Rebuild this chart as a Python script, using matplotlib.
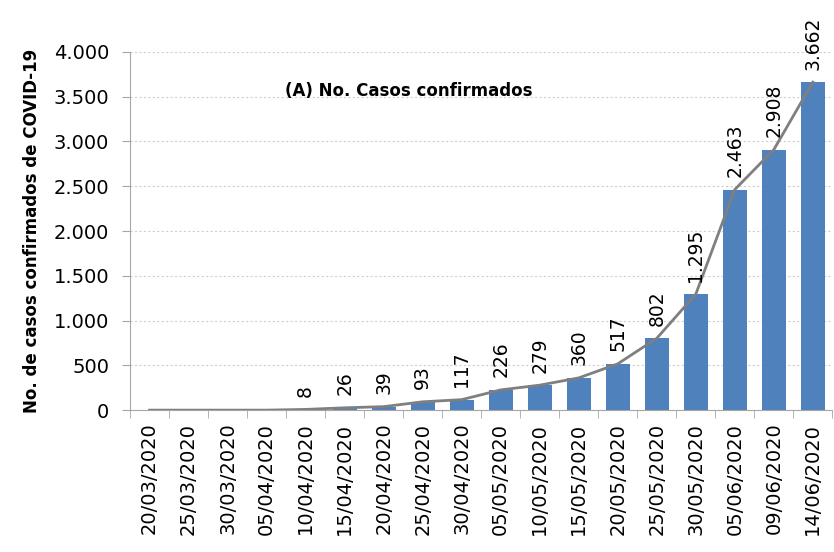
import numpy as np
import matplotlib
matplotlib.use("Agg")
import matplotlib.pyplot as plt
from matplotlib.ticker import FuncFormatter

fechas = ['20/03/2020', '25/03/2020', '30/03/2020', '05/04/2020', '10/04/2020',
          '15/04/2020', '20/04/2020', '25/04/2020', '30/04/2020', '05/05/2020',
          '10/05/2020', '15/05/2020', '20/05/2020', '25/05/2020', '30/05/2020',
          '05/06/2020', '09/06/2020', '14/06/2020']
casos = [0, 0, 0, 0, 8, 26, 39, 93, 117, 226, 279, 360, 517, 802, 1295, 2463, 2908, 3662]

plt.rcParams['font.family'] = ['DejaVu Sans']


def miles(v, pos=None):
    return f"{int(v):,}".replace(",", ".")


fig = plt.figure(figsize=(8.34, 5.52), dpi=100)
ax = fig.add_axes([0.156, 0.257, 0.842, 0.649])

x = np.arange(len(casos))
ax.bar(x, casos, 0.62, color='#4F81BD', zorder=2)
ax.plot(x, casos, color='#7F7F7F', lw=2, zorder=3)

for xi, v in zip(x, casos):
    if v > 0:
        ax.annotate(miles(v), (xi, v), xytext=(0, 9), textcoords='offset points',
                    rotation=90, ha='center', va='bottom', fontsize=13.5,
                    annotation_clip=False)

ax.set_xlim(-0.5, len(casos) - 0.5)
ax.set_ylim(0, 4000)
ax.set_yticks(np.arange(0, 4001, 500))
ax.yaxis.set_major_formatter(FuncFormatter(miles))
ax.set_xticks(x)
ax.set_xticklabels(fechas, rotation=90, fontsize=14)
ax.set_xticks(np.arange(-0.5, len(casos)), minor=True)
ax.tick_params(axis='x', which='major', length=0, pad=9)
ax.tick_params(axis='x', which='minor', length=6, color='#A6A6A6')
ax.tick_params(axis='y', length=6, color='#A6A6A6', labelsize=14, pad=9)

ax.grid(axis='y', linestyle=(0, (2, 2)), color='#CFCFCF', lw=0.8, zorder=0)
for s in ['top', 'right']:
    ax.spines[s].set_visible(False)
ax.spines['left'].set_color('#A6A6A6')
ax.spines['bottom'].set_color('#A6A6A6')

ax.set_ylabel('No. de casos confirmados de COVID-19', fontsize=12,
              fontweight='bold', labelpad=9)
ax.text(0.22, 0.892, '(A) No. Casos confirmados', transform=ax.transAxes,
        fontsize=12, fontweight='bold', va='center')

fig.savefig('out.png', dpi=100)
